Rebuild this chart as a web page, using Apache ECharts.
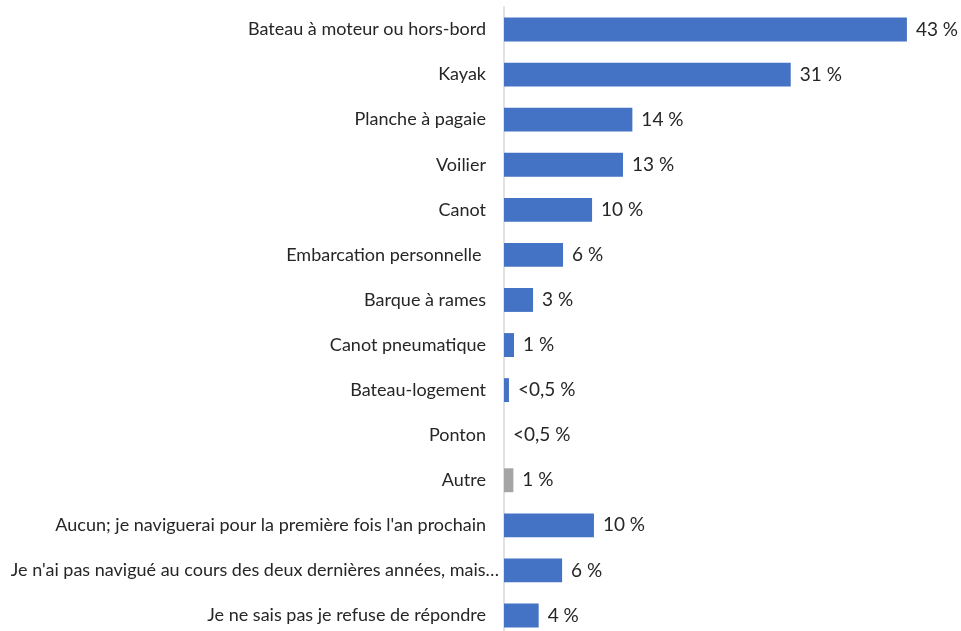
<!DOCTYPE html>
<html><head><meta charset="utf-8">
<script src="https://cdn.jsdelivr.net/npm/echarts@6/dist/echarts.min.js"></script>
<style>html,body{margin:0;padding:0;background:#fff}#c{width:961px;height:631px}</style>
</head><body><div id="c"></div>
<script>
const categories = [
  "Bateau à moteur ou hors-bord",
  "Kayak",
  "Planche à pagaie",
  "Voilier",
  "Canot",
  "Embarcation personnelle ",
  "Barque à rames",
  "Canot pneumatique",
  "Bateau-logement",
  "Ponton",
  "Autre",
  "Aucun; je naviguerai pour la première fois l'an prochain",
  "Je n'ai pas navigué au cours des deux dernières années, mais…",
  "Je ne sais pas je refuse de répondre"
];
const values = [43.0, 30.6, 13.7, 12.7, 9.4, 6.3, 3.1, 1.07, 0.53, 0, 1.0, 9.6, 6.2, 3.7];
const valueLabels = ["43 %","31 %","14 %","13 %","10 %","6 %","3 %","1 %","<0,5 %","<0,5 %","1 %","10 %","6 %","4 %"];
const grayIndex = 10;

const chart = echarts.init(document.getElementById('c'));
chart.setOption({
  animation: false,
  grid: { left: 504, top: 7, width: 468.5, height: 631, outerBoundsMode: 'none', containLabel: false },
  xAxis: { type: 'value', min: 0, max: 50, show: false },
  yAxis: {
    type: 'category',
    inverse: true,
    data: categories.map((c, i) => i === 12 ? { value: c, textStyle: { padding: [0, -13, 0, 0] } } : c),
    axisTick: { show: false },
    axisLine: { show: true, lineStyle: { color: '#d9d9d9', width: 1.5 } },
    axisLabel: { margin: 18, fontFamily: 'Lato', fontSize: 18, color: '#262626' }
  },
  series: [{
    type: 'bar',
    barCategoryGap: '47%',
    data: values.map((v, i) => ({ value: v, itemStyle: { color: i === grayIndex ? '#A5A5A5' : '#4472C4' } })),
    label: {
      show: true, position: 'right', distance: 9,
      fontFamily: 'Lato', fontSize: 19, color: '#262626',
      formatter: p => valueLabels[p.dataIndex]
    }
  }]
});
</script></body></html>
